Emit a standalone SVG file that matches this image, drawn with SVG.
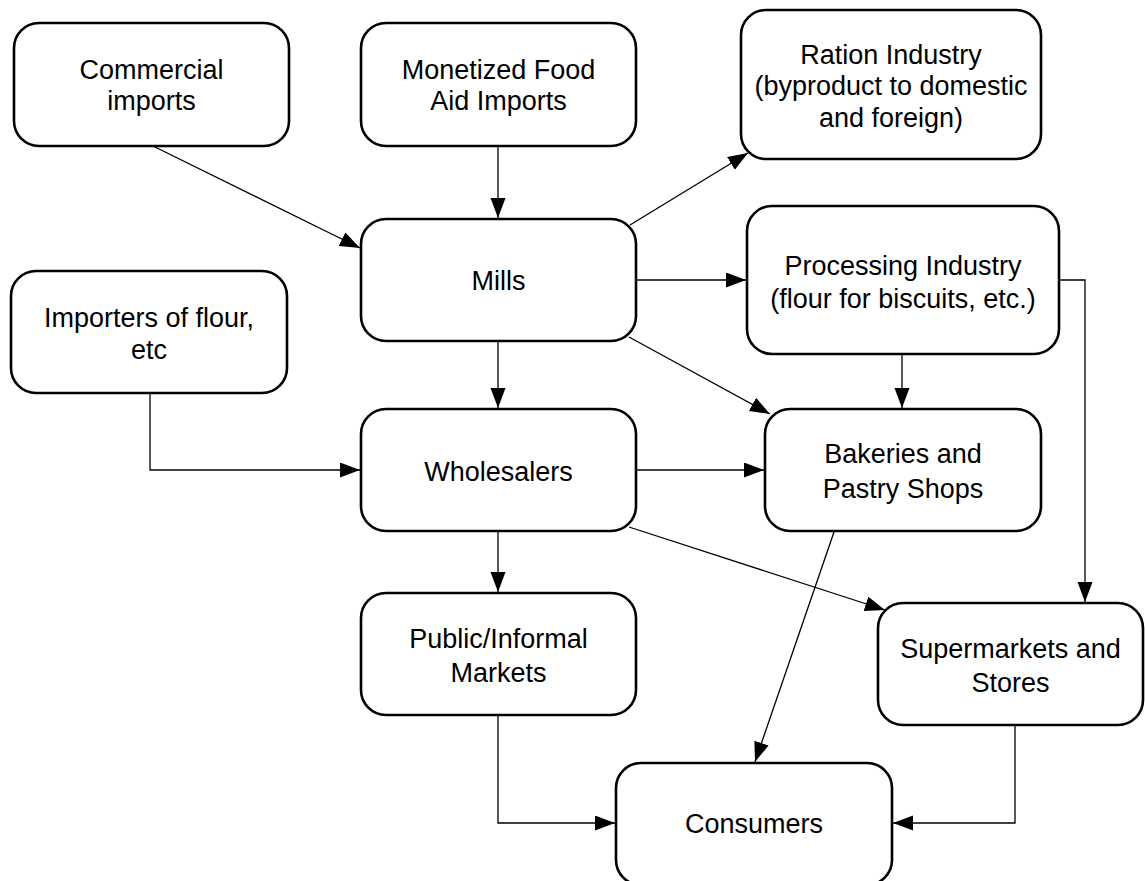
<svg xmlns="http://www.w3.org/2000/svg" width="1145" height="881" viewBox="0 0 1145 881">
<defs>
<marker id="arr" markerUnits="userSpaceOnUse" markerWidth="21" markerHeight="16" refX="20" refY="7.5" orient="auto">
<path d="M0,0 L20,7.5 L0,15 z" fill="#000"/>
</marker>
<style>
.box{fill:#fff;stroke:#000;stroke-width:2.6}
.t{font-family:"Liberation Sans",Arial,sans-serif;font-size:27px;fill:#000;text-anchor:middle}
.c{fill:none;stroke:#000;stroke-width:1.3;marker-end:url(#arr)}
</style>
</defs>
<rect width="1145" height="881" fill="#fff"/>
<g id="connectors">
<path class="c" d="M153,146 L360,248"/>
<path class="c" d="M498,146 L498,218"/>
<path class="c" d="M630,225 L748,153"/>
<path class="c" d="M636,280 L746,280"/>
<path class="c" d="M1059,280 L1085,280 L1085,602"/>
<path class="c" d="M902,354 L902,408"/>
<path class="c" d="M498,341 L498,408"/>
<path class="c" d="M629,337 L770,414"/>
<path class="c" d="M150,393 L150,470 L360,470"/>
<path class="c" d="M636,470 L764,470"/>
<path class="c" d="M629,527 L885,610"/>
<path class="c" d="M498,531 L498,592"/>
<path class="c" d="M834,532 L755,762"/>
<path class="c" d="M498,715 L498,823 L615,823"/>
<path class="c" d="M1015,725 L1015,823 L893,823"/>
</g>
<g id="commercial">
<rect class="box" x="14" y="23" width="275" height="123" rx="25"/>
<text class="t" x="151.5" y="79">Commercial</text>
<text class="t" x="151.5" y="110">imports</text>
</g>
<g id="monetized">
<rect class="box" x="361" y="23" width="275" height="123" rx="25"/>
<text class="t" x="498.5" y="79">Monetized Food</text>
<text class="t" x="498.5" y="110">Aid Imports</text>
</g>
<g id="ration">
<rect class="box" x="741" y="10" width="300" height="149" rx="25"/>
<text class="t" x="891" y="64">Ration Industry</text>
<text class="t" x="891" y="95">(byproduct to domestic</text>
<text class="t" x="891" y="127">and foreign)</text>
</g>
<g id="mills">
<rect class="box" x="361" y="219" width="275" height="122" rx="25"/>
<text class="t" x="498.5" y="290">Mills</text>
</g>
<g id="processing">
<rect class="box" x="747" y="206" width="312" height="148" rx="25"/>
<text class="t" x="903" y="275">Processing Industry</text>
<text class="t" x="903" y="308">(flour for biscuits, etc.)</text>
</g>
<g id="importers">
<rect class="box" x="11" y="271" width="276" height="122" rx="25"/>
<text class="t" x="149" y="327">Importers of flour,</text>
<text class="t" x="149" y="359">etc</text>
</g>
<g id="wholesalers">
<rect class="box" x="361" y="409" width="275" height="122" rx="25"/>
<text class="t" x="498.5" y="481">Wholesalers</text>
</g>
<g id="bakeries">
<rect class="box" x="765" y="409" width="276" height="122" rx="25"/>
<text class="t" x="903" y="463">Bakeries and</text>
<text class="t" x="903" y="498">Pastry Shops</text>
</g>
<g id="public">
<rect class="box" x="361" y="593" width="275" height="122" rx="25"/>
<text class="t" x="498.5" y="648">Public/Informal</text>
<text class="t" x="498.5" y="682">Markets</text>
</g>
<g id="supermarkets">
<rect class="box" x="878" y="603" width="265" height="122" rx="25"/>
<text class="t" x="1010.5" y="658">Supermarkets and</text>
<text class="t" x="1010.5" y="692">Stores</text>
</g>
<g id="consumers">
<rect class="box" x="616" y="763" width="276" height="122" rx="25"/>
<text class="t" x="754" y="833">Consumers</text>
</g>
</svg>
